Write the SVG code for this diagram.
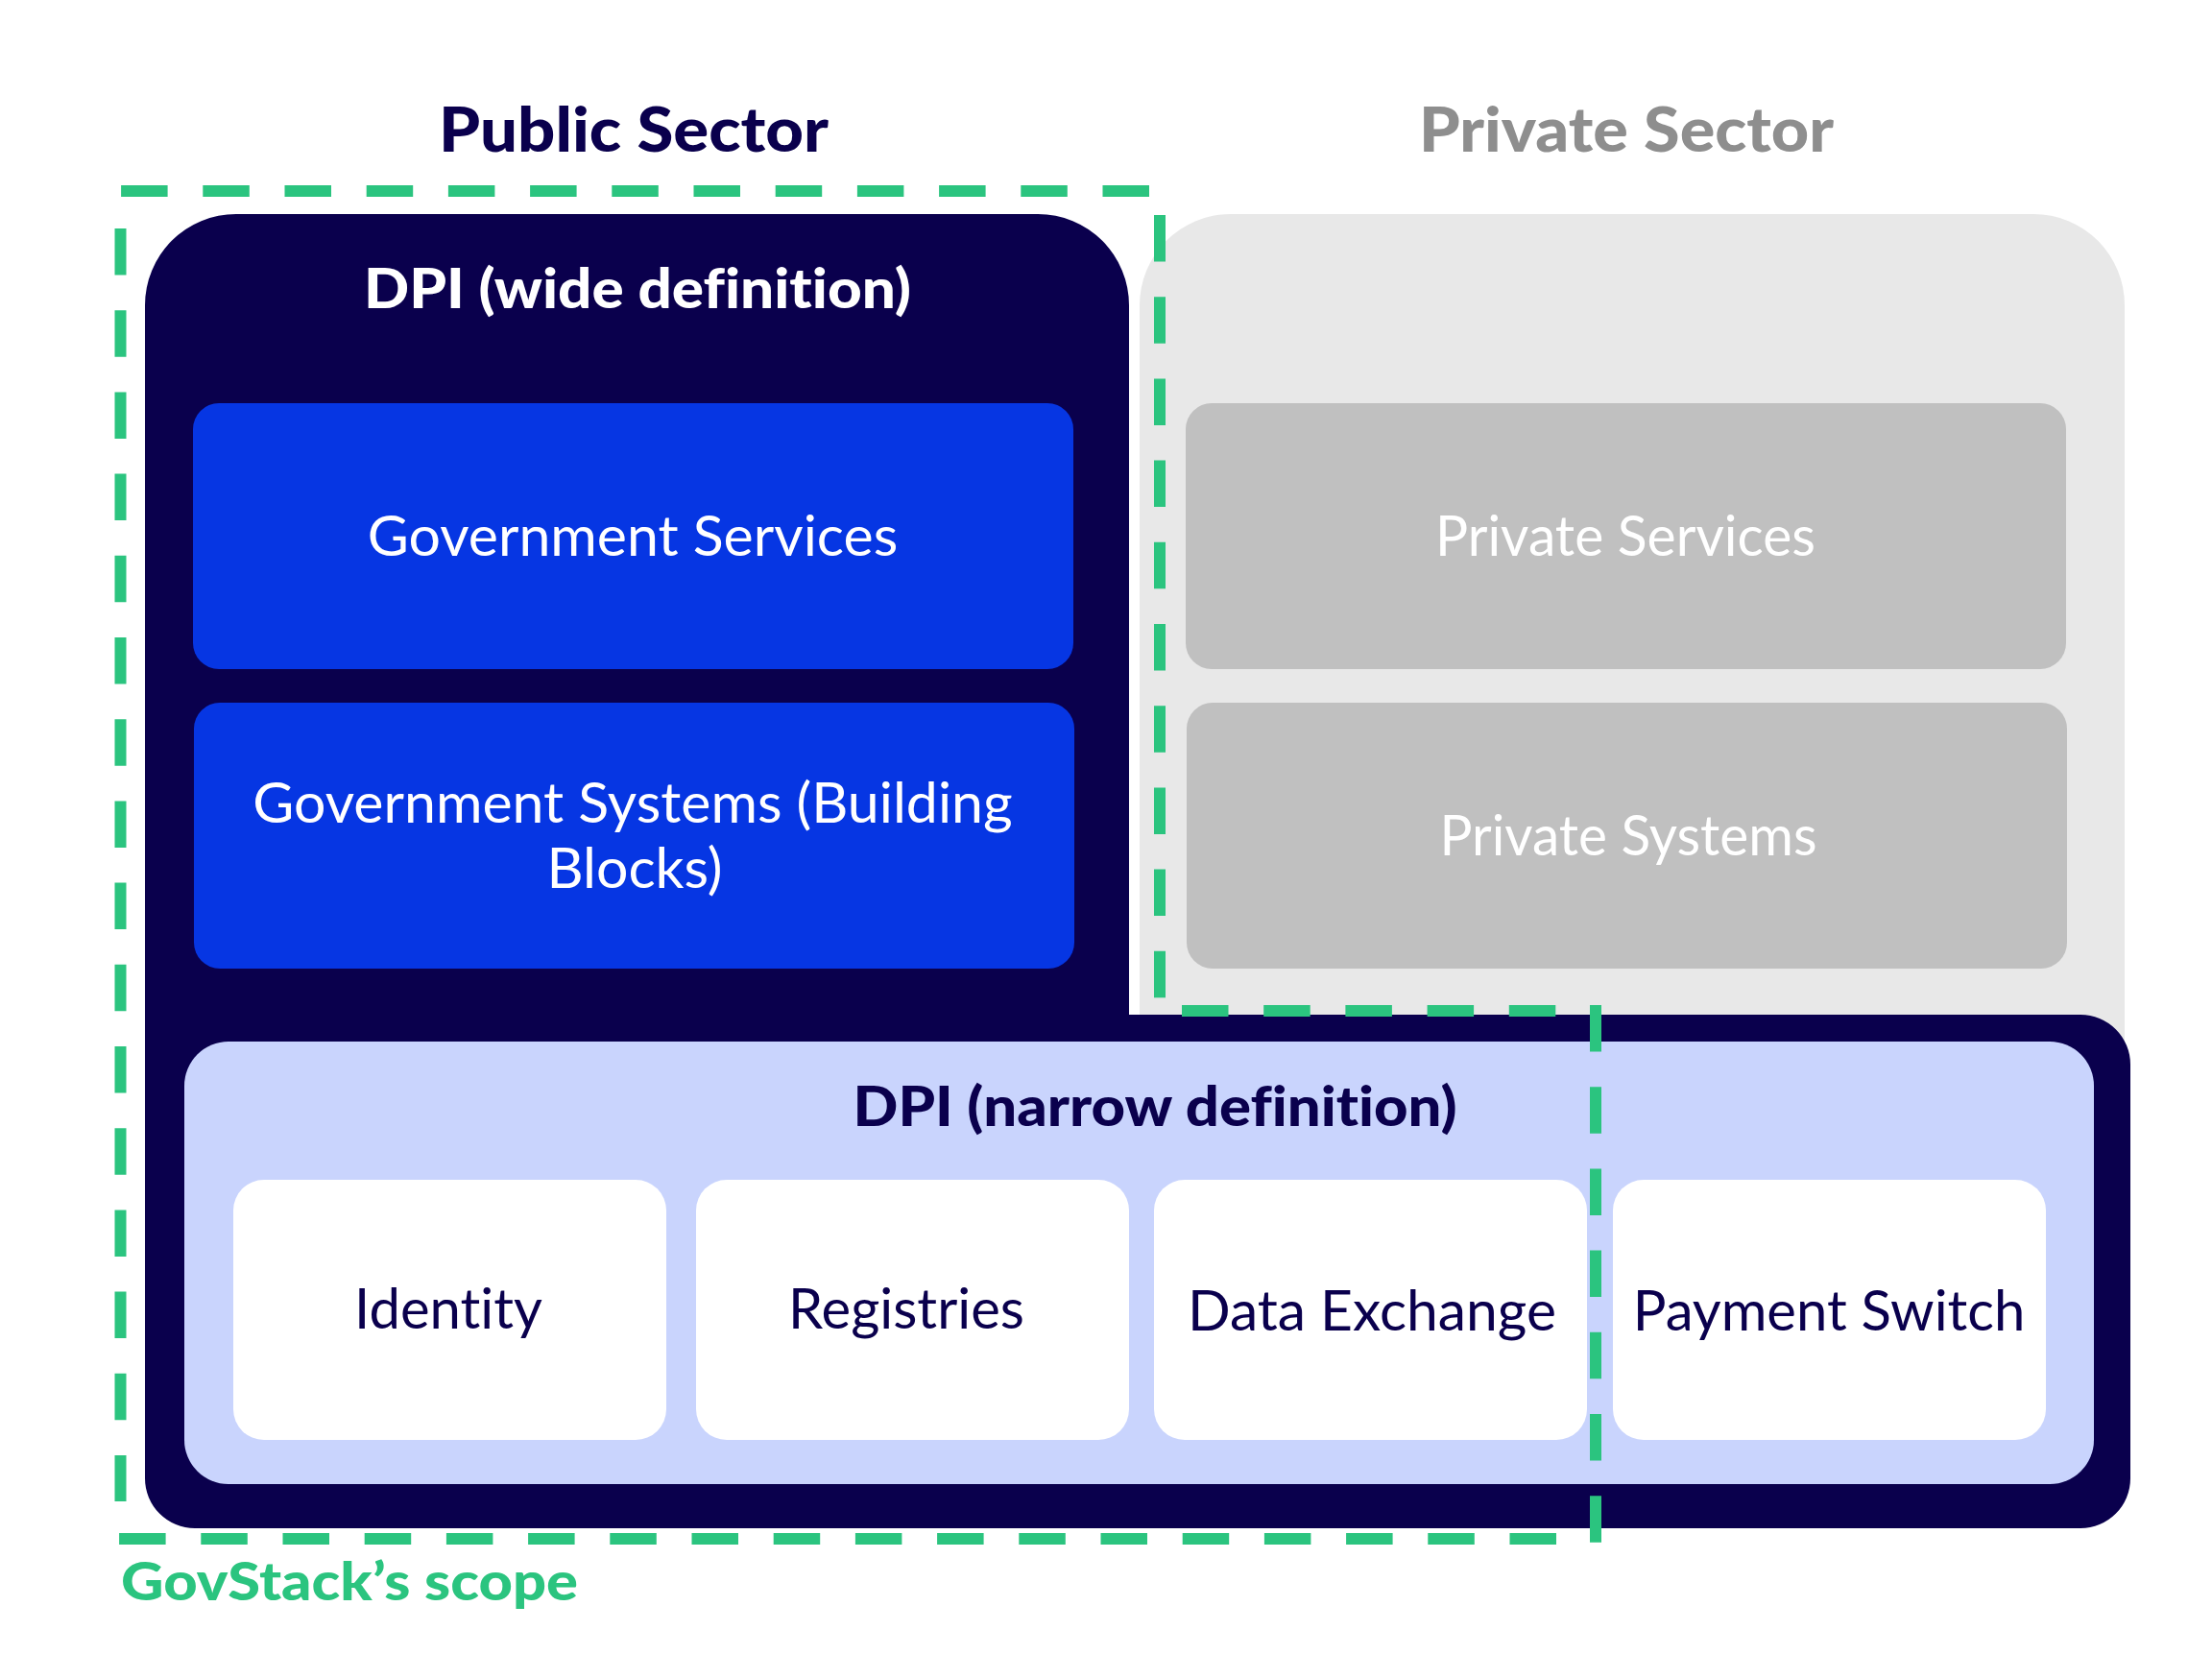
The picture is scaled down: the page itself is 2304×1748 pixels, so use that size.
<svg xmlns="http://www.w3.org/2000/svg" width="2304" height="1748" viewBox="0 0 2304 1748">
<style>
.t{font-family:Lato,"Liberation Sans",sans-serif;text-anchor:middle;font-variant-ligatures:none;font-feature-settings:"liga" 0,"dlig" 0}
.b{font-weight:900}
.r{font-weight:400}
.navy{fill:#0A004D}
.wh{fill:#FFFFFF}
.dash{fill:none;stroke:#2BC47F;stroke-width:12;stroke-dasharray:48.5 36.7}
</style>
<rect width="2304" height="1748" fill="#FFFFFF"/>
<g id="headings">
<text class="t b navy" x="660" y="158" font-size="65" textLength="406" lengthAdjust="spacingAndGlyphs">Public Sector</text>
<text class="t b" x="1694" y="158" font-size="65" fill="#8E8E8E" textLength="432" lengthAdjust="spacingAndGlyphs">Private Sector</text>
</g>
<g id="private-sector">
<path d="M1187,318 A95,95 0 0 1 1282,223 H2118 A95,95 0 0 1 2213,318 V1110 H1187 Z" fill="#E8E8E8"/>
</g>
<g id="dpi-wide">
<path d="M151,318 A95,95 0 0 1 246,223 H1081 A95,95 0 0 1 1176,318 V1057 H2167 A52,52 0 0 1 2219,1109 V1540 A52,52 0 0 1 2167,1592 H203 A52,52 0 0 1 151,1540 Z" fill="#0A004D"/>
<text class="t b wh" x="664" y="321" font-size="58" textLength="570" lengthAdjust="spacingAndGlyphs">DPI (wide definition)</text>
</g>
<g id="gov-services">
<rect x="201" y="420" width="917" height="277" rx="27" fill="#0636E3"/>
<text class="t r wh" x="659" y="579" font-size="59">Government Services</text>
</g>
<g id="gov-systems">
<rect x="202" y="732" width="917" height="277" rx="27" fill="#0636E3"/>
<text class="t r wh" x="659" y="857" font-size="59">Government Systems (Building</text>
<text class="t r wh" x="661" y="925" font-size="59">Blocks)</text>
</g>
<g id="private-services">
<rect x="1235" y="420" width="917" height="277" rx="27" fill="#C0C0C0"/>
<text class="t r wh" x="1693" y="579" font-size="58" textLength="396" lengthAdjust="spacingAndGlyphs">Private Services</text>
</g>
<g id="private-systems">
<rect x="1236" y="732" width="917" height="277" rx="27" fill="#C0C0C0"/>
<text class="t r wh" x="1696" y="891" font-size="58" textLength="393" lengthAdjust="spacingAndGlyphs">Private Systems</text>
</g>
<g id="dpi-narrow">
<rect x="192" y="1085" width="1989" height="461" rx="46" fill="#C9D4FD"/>
<text class="t b navy" x="1203" y="1173" font-size="58" textLength="629" lengthAdjust="spacingAndGlyphs">DPI (narrow definition)</text>
</g>
<g id="identity">
<rect x="243" y="1229" width="451" height="271" rx="32" fill="#FFFFFF"/>
<text class="t r navy" x="467" y="1384" font-size="58">Identity</text>
</g>
<g id="registries">
<rect x="725" y="1229" width="451" height="271" rx="32" fill="#FFFFFF"/>
<text class="t r navy" x="944" y="1384" font-size="58">Registries</text>
</g>
<g id="data-exchange">
<rect x="1202" y="1229" width="451" height="271" rx="32" fill="#FFFFFF"/>
<text class="t r navy" x="1429" y="1386" font-size="58" textLength="384" lengthAdjust="spacingAndGlyphs">Data Exchange</text>
</g>
<g id="payment-switch">
<rect x="1680" y="1229" width="451" height="271" rx="32" fill="#FFFFFF"/>
<text class="t r navy" x="1905" y="1386" font-size="58">Payment Switch</text>
</g>
<g id="connectors">
<path class="dash" d="M1197,199 H119"/>
<path class="dash" d="M125.5,238 V1564"/>
<path class="dash" d="M1208,224 V1040"/>
<path class="dash" d="M1231,1053 H1621"/>
<path class="dash" d="M1662,1047 V1608"/>
<path class="dash" d="M1621,1603 H119"/>
</g>
<g id="scope-label">
<text class="t b" x="364" y="1667" font-size="56" fill="#2BC47F" textLength="476" lengthAdjust="spacingAndGlyphs">GovStack’s scope</text>
</g>
</svg>
